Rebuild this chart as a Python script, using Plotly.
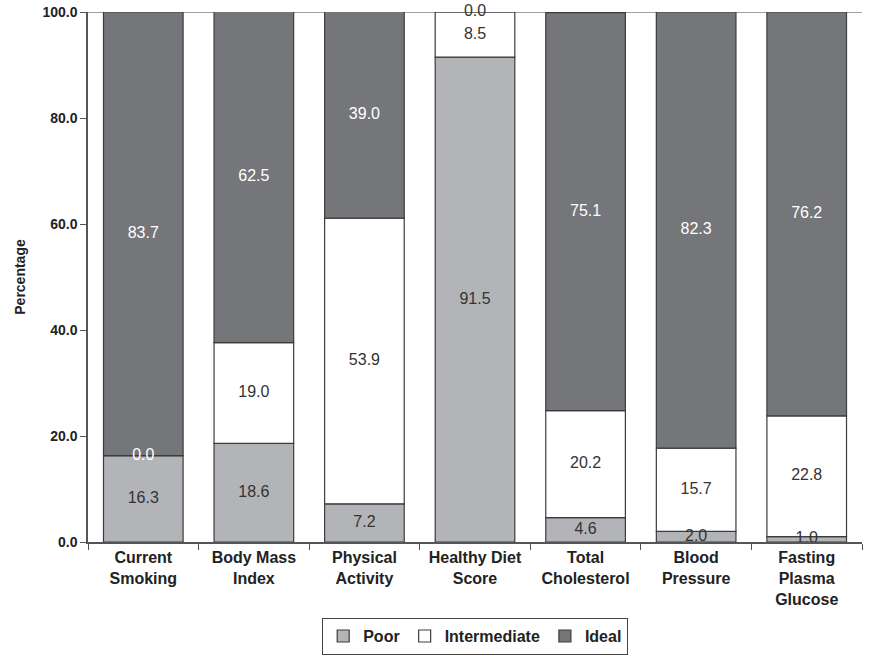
import plotly.graph_objects as go

categories = ["Current<br>Smoking", "Body Mass<br>Index", "Physical<br>Activity",
              "Healthy Diet<br>Score", "Total<br>Cholesterol", "Blood<br>Pressure",
              "Fasting<br>Plasma<br>Glucose"]
poor = [16.3, 18.6, 7.2, 91.5, 4.6, 2.0, 1.0]
intermediate = [0.0, 19.0, 53.9, 8.5, 20.2, 15.7, 22.8]
ideal = [83.7, 62.5, 39.0, 0.0, 75.1, 82.3, 76.2]
y_ticks = [0, 20, 40, 60, 80, 100]

series = [("Poor", poor, "#b3b4b8", "#333333"),
          ("Intermediate", intermediate, "#ffffff", "#333333"),
          ("Ideal", ideal, "#75767a", "#ffffff")]

FONT = "Liberation Sans, Arial"

fig = go.Figure()
base = [0.0] * len(categories)
for name, vals, col, tcol in series:
    fig.add_trace(go.Bar(
        x=categories, y=vals, name=name, base=base,
        marker=dict(color=col, line=dict(color="#3c3c3c", width=1.2)),
        hoverinfo="skip"))
    mids = [b + v / 2 for b, v in zip(base, vals)]
    tcols = []
    for b, v in zip(base, vals):
        if v == 0 and b < 99:
            tcols.append("#ffffff" if name == "Intermediate" else tcol)
        elif v == 0:
            tcols.append("#333333")
        else:
            tcols.append(tcol)
    fig.add_trace(go.Scatter(
        x=categories, y=mids, mode="text",
        text=[f"{v:.1f}" for v in vals],
        textfont=dict(family=FONT, size=16, color=tcols),
        showlegend=False, hoverinfo="skip", cliponaxis=False))
    base = [b + v for b, v in zip(base, vals)]

fig.add_shape(type="line", xref="paper", x0=0, x1=1, yref="y", y0=100, y1=100,
              line=dict(color="#808080", width=1.5), layer="below")

fig.update_layout(
    width=869, height=658,
    margin=dict(l=88, r=7, t=12, b=116, autoexpand=False),
    barmode="overlay", bargap=0.28,
    plot_bgcolor="white", paper_bgcolor="white",
    font=dict(family=FONT, color="#222222"),
    xaxis=dict(showline=True, linecolor="#555555", linewidth=1.5,
               ticks="outside", tickson="boundaries", ticklen=6, tickcolor="#555555",
               tickfont=dict(size=16, family=FONT, weight="bold", color="#222222"),
               showgrid=False),
    yaxis=dict(range=[0, 100], tickvals=y_ticks, ticktext=[f"{t:.1f}" for t in y_ticks],
               showline=True, linecolor="#555555", linewidth=1.5,
               ticks="outside", ticklen=6, tickcolor="#555555",
               tickfont=dict(size=14, family=FONT, weight="bold", color="#222222"),
               showgrid=False, zeroline=False,
               title=dict(text="Percentage", standoff=14,
                          font=dict(size=14, family=FONT, weight="bold"))),
    legend=dict(orientation="h", x=0.5, xanchor="center", y=-0.213, yanchor="bottom",
                bordercolor="#444444", borderwidth=1.2,
                font=dict(size=16, family=FONT, weight="bold", color="#222222"),
                itemwidth=30, tracegroupgap=0),
)

fig.write_html("out.html", config={"displayModeBar": False},
               post_script="document.body.style.margin='0';document.body.style.overflow='hidden';")
